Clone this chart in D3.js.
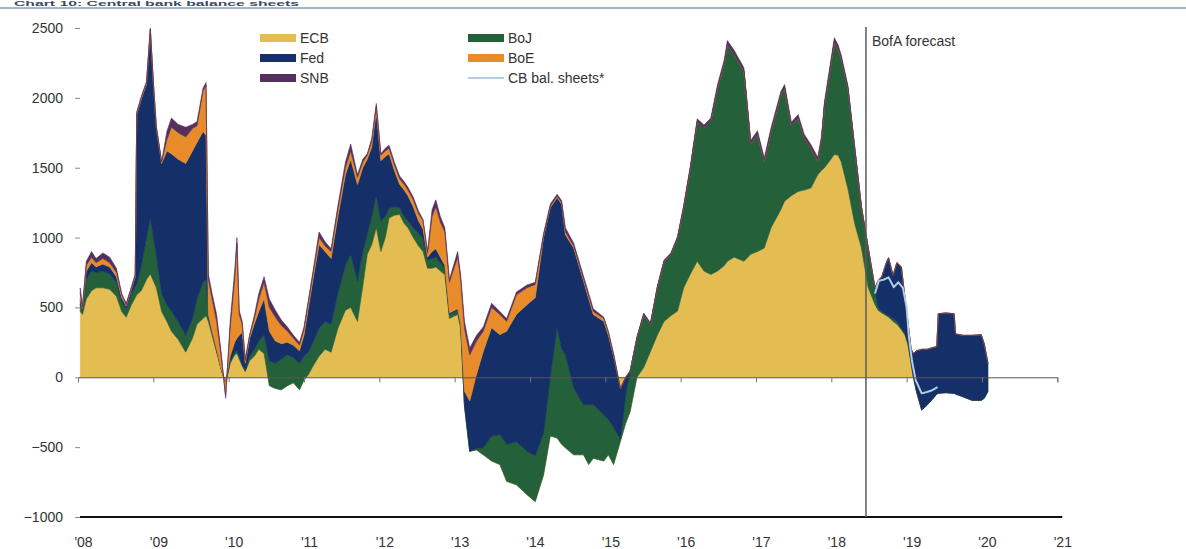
<!DOCTYPE html>
<html>
<head>
<meta charset="utf-8">
<script src="https://cdn.jsdelivr.net/npm/d3@7"></script>
<style>
  html, body { margin: 0; padding: 0; background: #ffffff; }
  svg { display: block; font-family: "Liberation Sans", Arial, sans-serif; }
</style>
</head>
<body>
<svg id="chart" width="1186" height="549"></svg>
<script>
// Year-on-year change in central bank balance sheets, $bn (decimal-year dates)
const dates = [
  2008.03, 2008.06, 2008.11, 2008.18, 2008.24, 2008.33, 2008.42, 2008.51, 2008.58, 2008.64,
  2008.71, 2008.76, 2008.78, 2008.84, 2008.91, 2008.96, 2009.00, 2009.04, 2009.11, 2009.18,
  2009.24, 2009.33, 2009.43, 2009.52, 2009.58, 2009.66, 2009.70, 2009.73, 2009.78, 2009.84,
  2009.90, 2009.96, 2010.02, 2010.08, 2010.11, 2010.14, 2010.18, 2010.22, 2010.28, 2010.34,
  2010.40, 2010.47, 2010.54, 2010.62, 2010.70, 2010.78, 2010.86, 2010.94, 2011.00, 2011.06,
  2011.12, 2011.20, 2011.28, 2011.36, 2011.45, 2011.55, 2011.62, 2011.71, 2011.78, 2011.84,
  2011.90, 2011.96, 2012.02, 2012.08, 2012.13, 2012.20, 2012.27, 2012.33, 2012.38, 2012.45,
  2012.52, 2012.58, 2012.64, 2012.70, 2012.75, 2012.81, 2012.87, 2012.93, 2013.04, 2013.08,
  2013.13, 2013.20, 2013.29, 2013.38, 2013.49, 2013.60, 2013.69, 2013.82, 2013.96, 2014.07,
  2014.18, 2014.27, 2014.36, 2014.42, 2014.47, 2014.58, 2014.71, 2014.78, 2014.84, 2014.98,
  2015.04, 2015.11, 2015.20, 2015.27, 2015.33, 2015.42, 2015.51, 2015.60, 2015.69, 2015.78,
  2015.87, 2015.96, 2016.04, 2016.13, 2016.22, 2016.31, 2016.40, 2016.49, 2016.58, 2016.62,
  2016.71, 2016.84, 2016.93, 2017.02, 2017.11, 2017.20, 2017.33, 2017.38, 2017.47, 2017.56,
  2017.64, 2017.73, 2017.82, 2017.87, 2017.91, 2017.98, 2018.04, 2018.09, 2018.13, 2018.22,
  2018.31, 2018.40, 2018.49, 2018.58, 2018.62, 2018.67, 2018.73, 2018.76, 2018.82, 2018.87,
  2018.93, 2018.98, 2019.02, 2019.06, 2019.09, 2019.13, 2019.20, 2019.27, 2019.33, 2019.40,
  2019.42, 2019.52, 2019.63, 2019.65, 2019.75, 2019.87, 2019.99, 2020.03, 2020.08
];

const ecb = [
  470, 450, 560, 620, 640, 640, 630, 580, 470, 430,
  520, 570, 590, 620, 700, 740, 690, 640, 470, 400,
  330, 270, 180, 280, 380, 420, 440, 400, 300, 180,
  60, -40, 100, 160, 170, 130, 80, 40, 120, 150,
  200, 170, -60, -80, -90, -60, -40, -90, -20, 20,
  80, 150, 200, 180, 350, 480, 500, 400, 650, 880,
  950, 1070, 900, 1000, 1140, 1160, 1165, 1100, 1070, 1000,
  940, 900, 780, 780, 790, 760, 735, 420, 450, 350,
  -200, -530, -520, -555, -600, -625, -745, -770, -840, -890,
  -700, -420, -435, -480, -505, -555, -555, -625, -580, -600,
  -555, -625, -460, -330, -245, 0, 70, 185, 300, 400,
  440, 475, 640, 740, 830, 760, 735, 760, 800, 830,
  860, 830, 880, 900, 925, 1070, 1200, 1260, 1300, 1330,
  1340, 1355, 1450, 1480, 1500, 1550, 1595, 1590, 1545, 1350,
  1100, 925, 640, 520, 480, 460, 440, 430, 400, 380,
  340, 300, 230, 100, 0, -100, -235, -200, -165, -120,
  -115, -110, -115, -120, -140, -165, -165, -150, -100
];

const boj = [
  50, 30, 140, 140, 110, 120, 110, 100, 70, 60,
  80, 80, 80, 180, 300, 400, 310, 230, 130, 120,
  140, 130, 120, 140, 180, 260, 260, 40, 20, 10,
  0, 0, 10, 20, 20, 20, 10, 10, 30, 50,
  60, 130, 180, 180, 220, 220, 180, 190, 170, 160,
  170, 200, 200, 200, 250, 320, 380, 290, 250, 140,
  200, 230, 220, 150, 70, 60, 50, 50, 50, 70,
  90, 90, 60, 70, 70, 60, 45, 30, 30, 20,
  0, 0, 10, 50, 180, 215, 265, 310, 310, 330,
  300, 420, 790, 680, 665, 480, 360, 430, 385, 330,
  255, 265, 20, 200, 290, 280, 380, 195, 340, 430,
  440, 525, 575, 760, 1000, 1025, 1100, 1310, 1450, 1550,
  1450, 1360, 790, 840, 620, 690, 820, 810, 500, 525,
  375, 285, 100, 220, 450, 640, 805, 760, 740, 720,
  540, 290, 285, 100, 20, 10, 10, 10, 20, 20,
  10, 10, 10, 0, 0, 0, 0, 0, 0, 0,
  0, 0, 0, 0, 0, 0, 0, 0, 0
];

const fed = [
  40, 10, 60, 60, 40, 50, 50, 40, 30, 20,
  30, 70, 1210, 1190, 1100, 1340, 1100, 910, 930, 1100,
  1130, 1160, 1230, 1200, 1120, 1080, 1030, 10, 10, 10,
  0, 0, 40, 70, 90, 150, 230, 50, 130, 180,
  210, 260, 210, 160, 110, 90, 90, 90, 150, 320,
  450, 600, 500, 470, 550, 650, 680, 690, 600, 540,
  500, 600, 430, 430, 390, 260, 165, 190, 180, 150,
  90, 70, 20, 50, 60, 40, 20, 10, 10, 10,
  100, 360, 530, 690, 775, 715, 810, 910, 1050, 1130,
  1400, 1215, 930, 1040, 860, 1000, 885, 755, 645, 670,
  600, 510, 360, 130, 0, 0, 0, 0, 0, 0,
  0, 0, 0, 0, 0, 0, 0, 0, 0, 0,
  0, 0, 0, 0, 0, 0, 0, 0, 0, 0,
  0, 0, 0, 0, 0, 0, 0, 0, 0, 0,
  0, 0, 0, 20, 190, 250, 370, 415, 310, 420,
  440, 250, 140, 100, 170, 290, 435, 400, 375, 340,
  570, 570, 570, 430, 440, 465, 470, 390, 200
];

const boe = [
  40, 10, 40, 40, 30, 40, 30, 30, 20, 10,
  10, 10, 10, 10, 10, 10, 10, 10, 10, 80,
  190, 190, 190, 160, 120, 290, 360, 250, 230, 200,
  90, -90, 200, 450, 680, 150, 60, 20, 20, 40,
  90, 120, 170, 170, 130, 80, 50, 40, 40, 40,
  40, 50, 40, 50, 50, 50, 60, 50, 40, 30,
  40, 40, 40, 40, 40, 40, 40, 40, 40, 50,
  50, 60, 30, 250, 300, 250, 240, 220, 370, 320,
  450, 330, 240, 145, 145, 145, 70, 140, 120, 95,
  10, 10, 10, 10, 20, 15, 15, 20, 20, 20,
  20, 10, 0, 0, 0, 0, 0, 0, 0, 0,
  0, 0, 0, 0, 0, 0, 0, 0, 0, 0,
  0, 0, 0, 0, 0, 0, 0, 0, 0, 0,
  0, 0, 0, 0, 0, 0, 0, 0, 0, 0,
  0, 0, 0, 0, 0, 0, 0, 0, 0, 0,
  0, 0, 0, 0, 0, 0, 0, 0, 0, 0,
  0, 0, 0, 0, 0, 0, 0, 0, 0
];

const snb = [
  40, 10, 30, 40, 30, 40, 40, 30, 10, 10,
  10, 10, 10, 10, 10, 10, 5, 5, 5, 60,
  65, 60, 70, 30, 30, 20, 20, 40, 40, 50,
  30, -20, 50, 60, 40, 30, 20, 10, 10, 20,
  40, 40, 60, 50, 40, 30, 20, 20, 20, 20,
  20, 40, 30, 20, 30, 40, 50, 20, 20, 10,
  20, 20, 10, 20, 20, 20, 20, 20, 20, 20,
  20, 10, 10, 50, 50, 40, 30, 20, 40, 30,
  50, 50, 40, 30, 30, 20, 20, 20, 20, 15,
  20, 15, 15, 15, 30, 20, 20, 20, 20, 10,
  10, 10, 0, 0, 0, 10, 10, 10, 10, 10,
  10, 10, 15, 15, 20, 20, 20, 25, 25, 30,
  30, 25, 25, 25, 25, 25, 25, 25, 25, 25,
  25, 25, 25, 25, 25, 30, 30, 30, 25, 20,
  15, 10, 0, 0, 0, 0, 0, 0, 0, 0,
  0, 0, 0, 0, 0, 0, 0, 0, 0, 0,
  0, 0, 0, 0, 0, 0, 0, 0, 0
];

// Aggregate CB balance sheet change, forecast period
const lineDates = [2018.58, 2018.63, 2018.70, 2018.76, 2018.83, 2018.89, 2018.95, 2019.00,
                   2019.03, 2019.07, 2019.12, 2019.20, 2019.27, 2019.33, 2019.41];
const cbTotal = [600, 690, 700, 715, 645, 680, 640, 500, 290, 120, -20, -115, -105, -95, -70];

const seriesKeys = ["ECB", "BoJ", "Fed", "BoE", "SNB"];
const seriesColors = {
  ECB: "#e4bd52",
  BoJ: "#24603a",
  Fed: "#152f68",
  BoE: "#e88b2b",
  SNB: "#55305c"
};
const lineColor = "#b2cce4";

const yearTicks = d3.range(2008, 2022);
const yTicks = [-1000, -500, 0, 500, 1000, 1500, 2000, 2500];
const forecastStart = 2018.46;

const W = 1186, H = 549;
const svg = d3.select("#chart");

const x = d3.scaleLinear().domain([2008, 2021]).range([78, 1057.3]);
const y = d3.scaleLinear().domain([-1000, 2500]).range([517, 28]);

// Title strip at the top edge
svg.append("text")
  .attr("x", 14).attr("y", 5.5)
  .attr("font-size", 6.5).attr("font-weight", "bold").attr("fill", "#3a4a66")
  .attr("textLength", 285).attr("lengthAdjust", "spacingAndGlyphs")
  .text("Chart 10: Central bank balance sheets");
svg.append("line")
  .attr("x1", 0).attr("x2", W).attr("y1", 8).attr("y2", 8)
  .attr("stroke", "#a6b6cb").attr("stroke-width", 2);

// Stacked areas: cumulative (non-diverging) stack, later series painted over earlier ones
const rows = dates.map((d, i) => ({
  date: d, ECB: ecb[i], BoJ: boj[i], Fed: fed[i], BoE: boe[i], SNB: snb[i]
}));
const stacked = d3.stack()
  .keys(seriesKeys)
  .order(d3.stackOrderNone)
  .offset(d3.stackOffsetNone)(rows);

const area = d3.area()
  .x(d => x(d.data.date))
  .y0(d => y(d[0]))
  .y1(d => y(d[1]));

svg.append("g").selectAll("path")
  .data(stacked)
  .join("path")
  .attr("d", area)
  .attr("fill", s => seriesColors[s.key])
  .attr("stroke", s => seriesColors[s.key])
  .attr("stroke-width", 0.6)
  .attr("stroke-linejoin", "round");

// Aggregate line
const lineData = lineDates.map((d, i) => ({ date: d, v: cbTotal[i] }));
svg.append("path")
  .datum(lineData)
  .attr("fill", "none")
  .attr("stroke", lineColor)
  .attr("stroke-width", 2)
  .attr("stroke-linejoin", "round")
  .attr("d", d3.line().x(d => x(d.date)).y(d => y(d.v)));

// Zero line with yearly ticks
const zeroAxis = d3.axisBottom(x)
  .tickValues(yearTicks)
  .tickSize(5)
  .tickFormat("");
const zg = svg.append("g")
  .attr("transform", `translate(0,${y(0)})`)
  .call(zeroAxis);
zg.select(".domain").attr("stroke", "#555").attr("stroke-width", 1);
zg.selectAll(".tick line").attr("stroke", "#777");

// Bottom axis line with year labels
const bottomAxis = d3.axisBottom(x)
  .tickValues(yearTicks)
  .tickSize(0)
  .tickPadding(20)
  .tickFormat(d => "'" + String(d).slice(2));
const bg = svg.append("g")
  .attr("transform", `translate(0,${y(-1000)})`)
  .call(bottomAxis);
bg.select(".domain").attr("stroke", "#111").attr("stroke-width", 2)
  .attr("d", `M${x(2008) + 2},0H${x(2021) + 5}`);
bg.selectAll(".tick text")
  .attr("font-size", 14).attr("fill", "#333").attr("dx", 5)
  .attr("font-family", "'Liberation Sans', Arial, sans-serif");

// Left value axis (labels and short dashes only)
const leftAxis = d3.axisLeft(y)
  .tickValues(yTicks)
  .tickSize(5)
  .tickPadding(12)
  .tickFormat(d3.format("d"));
const lg = svg.append("g")
  .attr("transform", `translate(80,0)`)
  .call(leftAxis);
lg.select(".domain").remove();
lg.selectAll(".tick line").attr("stroke", "#888");
lg.selectAll(".tick text")
  .attr("font-size", 14).attr("fill", "#333")
  .attr("font-family", "'Liberation Sans', Arial, sans-serif");

// Forecast marker
svg.append("line")
  .attr("x1", x(forecastStart)).attr("x2", x(forecastStart))
  .attr("y1", 27).attr("y2", y(-1000))
  .attr("stroke", "#5a5a5a").attr("stroke-width", 1.5);
svg.append("text")
  .attr("x", x(forecastStart) + 6).attr("y", 46)
  .attr("font-size", 14).attr("fill", "#333")
  .text("BofA forecast");

// Legend
const legendItems = [
  { label: "ECB", key: "ECB", col: 0, row: 0 },
  { label: "Fed", key: "Fed", col: 0, row: 1 },
  { label: "SNB", key: "SNB", col: 0, row: 2 },
  { label: "BoJ", key: "BoJ", col: 1, row: 0 },
  { label: "BoE", key: "BoE", col: 1, row: 1 },
  { label: "CB bal. sheets*", key: null, col: 1, row: 2 }
];
const colX = [260, 468];
const rowY = [38, 58, 78];
const lgnd = svg.append("g");
legendItems.forEach(it => {
  const gx = colX[it.col], gy = rowY[it.row];
  if (it.key) {
    lgnd.append("rect")
      .attr("x", gx).attr("y", gy - 4)
      .attr("width", 36).attr("height", 8)
      .attr("fill", seriesColors[it.key]);
  } else {
    lgnd.append("line")
      .attr("x1", gx).attr("x2", gx + 36)
      .attr("y1", gy).attr("y2", gy)
      .attr("stroke", lineColor).attr("stroke-width", 2);
  }
  lgnd.append("text")
    .attr("x", gx + 40).attr("y", gy + 5)
    .attr("font-size", 14).attr("fill", "#333")
    .text(it.label);
});
</script>
</body>
</html>
